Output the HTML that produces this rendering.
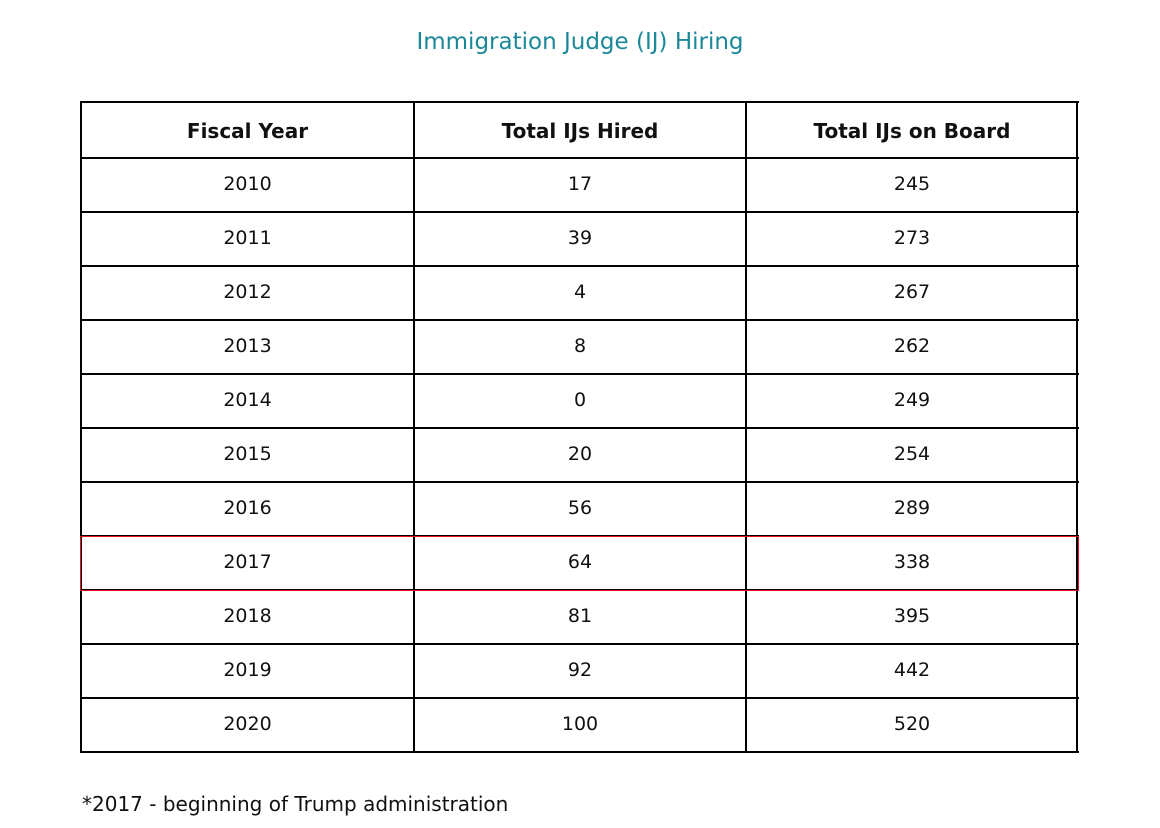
<!DOCTYPE html>
<html><head><style>
body{margin:0;width:1160px;height:828px;background:#fff;font-family:"DejaVu Sans","Liberation Sans",sans-serif;position:relative;overflow:hidden}
.t{position:absolute;left:0;width:1160px;top:29px;text-align:center;color:#1b8899;font-size:23px}
.l{position:absolute;background:#000}
.c{position:absolute;text-align:center;font-size:19px;color:#111;line-height:20px}
.h{font-weight:bold;font-size:20px}
.f{position:absolute;left:82px;top:792px;font-size:20px;color:#111}
</style></head><body>
<div class="t">Immigration Judge (IJ) Hiring</div>
<div id="g"></div>
<div class="f">*2017 - beginning of Trump administration</div>
<script>
var g=document.getElementById('g'),h='';
var ys=[102,158,212,266,320,374,428,482,536,590,644,698,752];
ys.forEach(function(y){h+='<div class="l" style="left:81px;top:'+(y-1)+'px;width:998px;height:2px"></div>';});
[81,414,746,1077].forEach(function(x){h+='<div class="l" style="left:'+(x-1)+'px;top:101px;width:2px;height:652px"></div>';});
h+='<div style="position:absolute;left:80px;top:536px;width:997px;height:53px;border:1.5px solid #e8141c"></div>';
h+='<div class="l" style="left:413px;top:537px;width:2px;height:53px"></div><div class="l" style="left:745px;top:537px;width:2px;height:53px"></div>';
var d=[["Fiscal Year","Total IJs Hired","Total IJs on Board"],["2010","17","245"],["2011","39","273"],["2012","4","267"],["2013","8","262"],["2014","0","249"],["2015","20","254"],["2016","56","289"],["2017","64","338"],["2018","81","395"],["2019","92","442"],["2020","100","520"]];
var xs=[81,414,746,1078];
d.forEach(function(r,i){var y0=ys[i],y1=ys[i+1],cy=(y0+y1)/2+(i==0?1:-1);r.forEach(function(v,j){h+='<div class="c'+(i==0?' h':'')+'" style="left:'+xs[j]+'px;width:'+(xs[j+1]-xs[j])+'px;top:'+(cy-10)+'px">'+v+'</div>';});});
g.innerHTML=h;
</script>
</body></html>
